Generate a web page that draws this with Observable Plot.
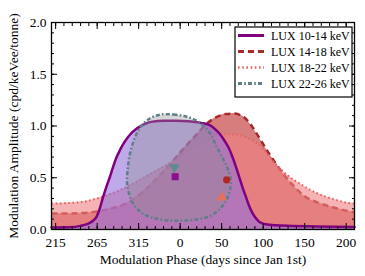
<!DOCTYPE html>
<html><head><meta charset="utf-8">
<script src="https://cdn.jsdelivr.net/npm/d3@7"></script>
<script src="https://cdn.jsdelivr.net/npm/@observablehq/plot@0.6"></script>
<style>
body{margin:0;background:#fff;}
#wrap{position:relative;width:365px;height:276px;font-family:"Liberation Serif","Times New Roman",serif;}
#legend{position:absolute;left:0;top:0;}
</style></head>
<body><div id="wrap"></div>
<script>
// ---- data (phase = days on an unwrapped axis starting 210 = Jul 29 of previous year; 365 = Jan 1st) ----
const seriesNames = ["LUX 10-14 keV","LUX 14-18 keV","LUX 18-22 keV","LUX 22-26 keV"];

const phase10 = [210,230,245,255,260,264,268,272,276,280,284,288,292,296,300,305,312,320,330,345,360,375,390,400,407,413,419,424,428,432,436,440,444,448,452,456,460,468,480,500,530,575];
const amp10   = [0.02,0.022,0.035,0.06,0.085,0.12,0.2,0.31,0.41,0.5,0.6,0.69,0.76,0.82,0.87,0.92,0.97,1.01,1.04,1.05,1.05,1.045,1.03,1.01,0.97,0.92,0.85,0.78,0.70,0.61,0.51,0.41,0.32,0.23,0.16,0.11,0.075,0.05,0.04,0.035,0.03,0.025];

const phase14 = [210,230,250,265,280,295,310,325,340,355,370,385,398,410,420,430,436,444,452,460,470,480,488,496,503,515,531,551,575];
const amp14   = [0.155,0.155,0.16,0.175,0.2,0.235,0.3,0.4,0.52,0.65,0.79,0.92,1.03,1.09,1.115,1.12,1.11,1.07,0.99,0.89,0.76,0.64,0.55,0.47,0.41,0.32,0.26,0.21,0.165];

const phase18 = [210,230,250,265,280,295,310,330,350,370,390,405,420,435,445,452,460,468,476,484,492,500,510,520,530,543,555,565,575];
const amp18   = [0.25,0.255,0.27,0.3,0.34,0.39,0.45,0.54,0.63,0.73,0.83,0.9,0.92,0.915,0.89,0.86,0.82,0.75,0.67,0.6,0.54,0.49,0.44,0.39,0.35,0.31,0.28,0.26,0.25];

// closed contour (clockwise from the top)
const phase22 = [341,357,373,389,401,409,418,424,426,425,421,413,401,383,365,347,331,319,310,304,301,302,305,311,318,328];
const amp22   = [1.11,1.11,1.09,1.03,0.93,0.80,0.66,0.55,0.47,0.38,0.29,0.2,0.13,0.095,0.085,0.09,0.115,0.16,0.23,0.33,0.45,0.6,0.75,0.9,1.0,1.07];

// best-fit points
const bestSeries = ["LUX 10-14 keV","LUX 14-18 keV","LUX 18-22 keV","LUX 22-26 keV"];
const bestPhase  = [359,421,415,358];
const bestAmp    = [0.51,0.48,0.31,0.60];

// ticks
const xTicks = [215,265,315,365,415,465,515,565];
const xTickLabels = ["215","265","315","0","50","100","150","200"];
const xMinor = d3.range(215,575,10);
const yTicks = [0,0.5,1.0,1.5,2.0];
const yMinor = d3.range(0,2.001,0.1);

// ---- build ----
const toRows = (p,a) => p.map((x,i)=>({phase:x, amp:a[i]}));
const d10 = toRows(phase10,amp10), d14 = toRows(phase14,amp14), d18 = toRows(phase18,amp18), d22 = toRows(phase22,amp22);
const best = bestSeries.map((s,i)=>({series:s, phase:bestPhase[i], amp:bestAmp[i]}));
const xLab = new Map(xTicks.map((t,i)=>[t,xTickLabels[i]]));

const styles = {
  "LUX 10-14 keV": {stroke:"#800080", fill:"mediumpurple", fo:0.6, w:2.5, dash:null},
  "LUX 14-18 keV": {stroke:"#a52a2a", fill:"indianred", fo:0.8, w:2.5, dash:"6,4"},
  "LUX 18-22 keV": {stroke:"#e06464", fill:"lightcoral", fo:0.6, w:2, dash:"1.6,2.6"},
  "LUX 22-26 keV": {stroke:"#5f7f88", fill:"#909090", fo:0.35, w:2.5, dash:"4,2.2,1.6,2.2"}
};
const S = seriesNames.map(n=>styles[n]);
const curve = "monotone-x";

const chart = Plot.plot({
  width:365, height:276,
  marginLeft:51, marginRight:11, marginTop:22, marginBottom:47,
  x:{domain:[210,575]},
  y:{domain:[0,2]},
  style:{fontFamily:'"Liberation Serif","Times New Roman",serif', fontSize:"12px", background:"white", color:"black"},
  marks:[
    Plot.areaY(d14,{x:"phase",y:"amp",fill:S[1].fill,fillOpacity:S[1].fo,curve}),
    Plot.line(d14,{x:"phase",y:"amp",stroke:S[1].stroke,strokeWidth:S[1].w,strokeDasharray:S[1].dash,strokeLinecap:"butt",curve}),
    Plot.areaY(d18,{x:"phase",y:"amp",fill:S[2].fill,fillOpacity:S[2].fo,curve}),
    Plot.line(d18,{x:"phase",y:"amp",stroke:S[2].stroke,strokeWidth:S[2].w,strokeDasharray:S[2].dash,strokeLinecap:"butt",curve}),
    Plot.areaY(d10,{x:"phase",y:"amp",fill:S[0].fill,fillOpacity:S[0].fo,curve}),
    Plot.line(d10,{x:"phase",y:"amp",stroke:S[0].stroke,strokeWidth:S[0].w,curve}),
    Plot.line(d22,{x:"phase",y:"amp",fill:S[3].fill,fillOpacity:S[3].fo,stroke:S[3].stroke,strokeWidth:S[3].w,strokeDasharray:S[3].dash,strokeLinecap:"butt",curve:"catmull-rom-closed"}),
    Plot.dot(best.filter(d=>d.series==="LUX 22-26 keV"),{x:"phase",y:"amp",symbol:"triangle",rotate:180,r:4,fill:"#5f8a8f",stroke:"none"}),
    Plot.dot(best.filter(d=>d.series==="LUX 10-14 keV"),{x:"phase",y:"amp",symbol:"square",r:4,fill:"#8b108b",stroke:"none"}),
    Plot.dot(best.filter(d=>d.series==="LUX 14-18 keV"),{x:"phase",y:"amp",symbol:"circle",r:3.6,fill:"#b02525",stroke:"none"}),
    Plot.dot(best.filter(d=>d.series==="LUX 18-22 keV"),{x:"phase",y:"amp",symbol:"triangle",r:4,fill:"#e5705f",stroke:"none"}),
    // axes: inward ticks on all four sides
    Plot.axisX({anchor:"bottom",ticks:xTicks,tickSize:-6,tickPadding:14,tickFormat:d=>xLab.get(d),label:"Modulation Phase (days since Jan 1st)",labelAnchor:"center",labelArrow:"none",labelOffset:34,fontSize:13.5}),
    Plot.axisX({anchor:"bottom",ticks:xMinor,tickSize:-3,tickFormat:()=>"",label:null}),
    Plot.axisX({anchor:"top",ticks:xTicks,tickSize:-6,tickFormat:()=>"",label:null}),
    Plot.axisX({anchor:"top",ticks:xMinor,tickSize:-3,tickFormat:()=>"",label:null}),
    Plot.axisY({anchor:"left",ticks:yTicks,tickSize:-6,tickPadding:11,tickFormat:d3.format(".1f"),label:"Modulation Amplitude (cpd/keVee/tonne)",labelAnchor:"center",labelArrow:"none",labelOffset:43,fontSize:13.5}),
    Plot.axisY({anchor:"left",ticks:yMinor,tickSize:-3,tickFormat:()=>"",label:null}),
    Plot.axisY({anchor:"right",ticks:yTicks,tickSize:-6,tickFormat:()=>"",label:null}),
    Plot.axisY({anchor:"right",ticks:yMinor,tickSize:-3,tickFormat:()=>"",label:null}),
    Plot.frame({stroke:"black",strokeWidth:1.3})
  ]
});
const wrap = document.getElementById("wrap");
wrap.appendChild(chart);

// legend (inside the plot frame, upper right)
const lg = d3.select(wrap).append("svg").attr("id","legend").attr("width",365).attr("height",276)
  .style("font-family",'"Liberation Serif","Times New Roman",serif').style("font-size","12px");
lg.append("rect").attr("x",235).attr("y",27).attr("width",117).attr("height",70).attr("fill","white").attr("stroke","black").attr("stroke-width",1.2);
seriesNames.forEach((n,i)=>{
  const s = styles[n], y = 35.5 + i*16;
  lg.append("line").attr("x1",238).attr("x2",264).attr("y1",y).attr("y2",y)
    .attr("stroke",s.stroke).attr("stroke-width",s.w+0.5).attr("stroke-dasharray",s.dash)
    .attr("stroke-linecap","butt");
  lg.append("text").attr("x",271).attr("y",y).attr("dy","0.35em").text(n);
});
</script></body></html>
